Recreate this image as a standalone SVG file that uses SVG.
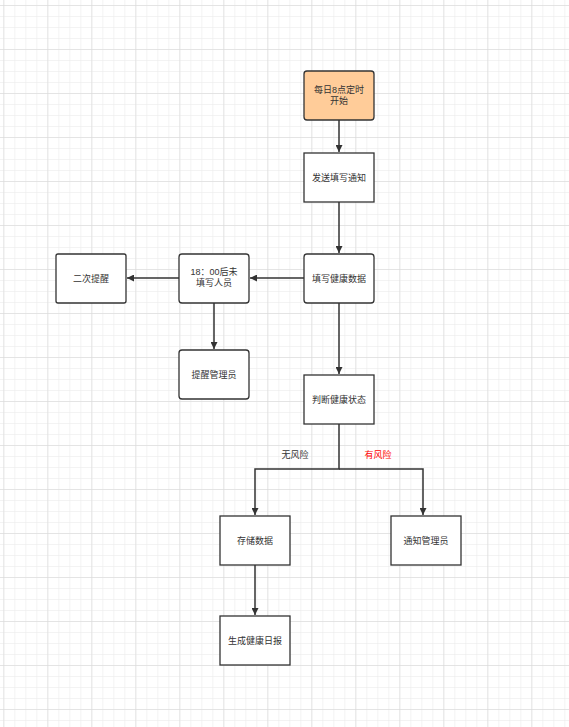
<svg xmlns="http://www.w3.org/2000/svg" width="569" height="727" viewBox="0 0 569 727">
<defs>
<pattern id="minor" x="3.3" y="5" width="11" height="11" patternUnits="userSpaceOnUse"><path d="M0 0H11M0 0V11" fill="none" stroke="#e8e8e8" stroke-width="1"/></pattern>
<pattern id="major" x="3.3" y="5" width="44" height="44" patternUnits="userSpaceOnUse"><path d="M0 0H44M0 0V44" fill="none" stroke="#d6d6d6" stroke-width="1"/></pattern>
<marker id="arr" viewBox="0 0 10 10" refX="10" refY="5" markerWidth="7" markerHeight="7" markerUnits="userSpaceOnUse" orient="auto"><path d="M0 0L10 5L0 10z" fill="#333"/></marker>
</defs>
<style>
.n{fill:#fff;stroke:#333;stroke-width:1.3}
.s{fill:#ffcc99}
.t{font-family:"Liberation Sans","Noto Sans CJK SC",sans-serif;font-size:9px;fill:#333;text-anchor:middle}
.c{fill:none;stroke:#333;stroke-width:1.5}
</style>
<rect width="569" height="727" fill="#fff"/>
<rect width="569" height="727" fill="url(#minor)"/>
<rect width="569" height="727" fill="url(#major)"/>
<g id="connectors">
<path class="c" d="M339 120V152" marker-end="url(#arr)"/>
<path class="c" d="M339 202V253" marker-end="url(#arr)"/>
<path class="c" d="M304 278H250" marker-end="url(#arr)"/>
<path class="c" d="M179 278H127" marker-end="url(#arr)"/>
<path class="c" d="M214 303V349" marker-end="url(#arr)"/>
<path class="c" d="M339 303V374" marker-end="url(#arr)"/>
<path class="c" d="M339 424V469H255V515" marker-end="url(#arr)"/>
<path class="c" d="M339 469H423V515" marker-end="url(#arr)"/>
<path class="c" d="M255 565V615" marker-end="url(#arr)"/>
<text class="t" x="295" y="458">无风险</text>
<text class="t" x="378" y="458" style="fill:#ff0000">有风险</text>
</g>
<g id="start"><rect class="n s" x="304" y="71" width="70" height="49" rx="3"/><text class="t" x="339" y="93">每日8点定时</text><text class="t" x="339" y="104">开始</text></g>
<g id="notify"><rect class="n" x="304" y="153" width="70" height="49"/><text class="t" x="339" y="181">发送填写通知</text></g>
<g id="fill"><rect class="n" x="304" y="254" width="70" height="49" rx="3"/><text class="t" x="339" y="282">填写健康数据</text></g>
<g id="unfilled"><rect class="n" x="179" y="254" width="70" height="49" rx="3"/><text class="t" x="214" y="275">18：00后未</text><text class="t" x="214" y="286">填写人员</text></g>
<g id="second"><rect class="n" x="56" y="254" width="70" height="49" rx="2"/><text class="t" x="91" y="282">二次提醒</text></g>
<g id="remindadmin"><rect class="n" x="179" y="350" width="70" height="49" rx="3"/><text class="t" x="214" y="378">提醒管理员</text></g>
<g id="judge"><rect class="n" x="304" y="375" width="70" height="49"/><text class="t" x="339" y="403">判断健康状态</text></g>
<g id="store"><rect class="n" x="220" y="516" width="70" height="49"/><text class="t" x="255" y="544">存储数据</text></g>
<g id="notifyadmin"><rect class="n" x="391" y="516" width="70" height="49"/><text class="t" x="426" y="544">通知管理员</text></g>
<g id="report"><rect class="n" x="220" y="616" width="70" height="49"/><text class="t" x="255" y="644">生成健康日报</text></g>
</svg>
